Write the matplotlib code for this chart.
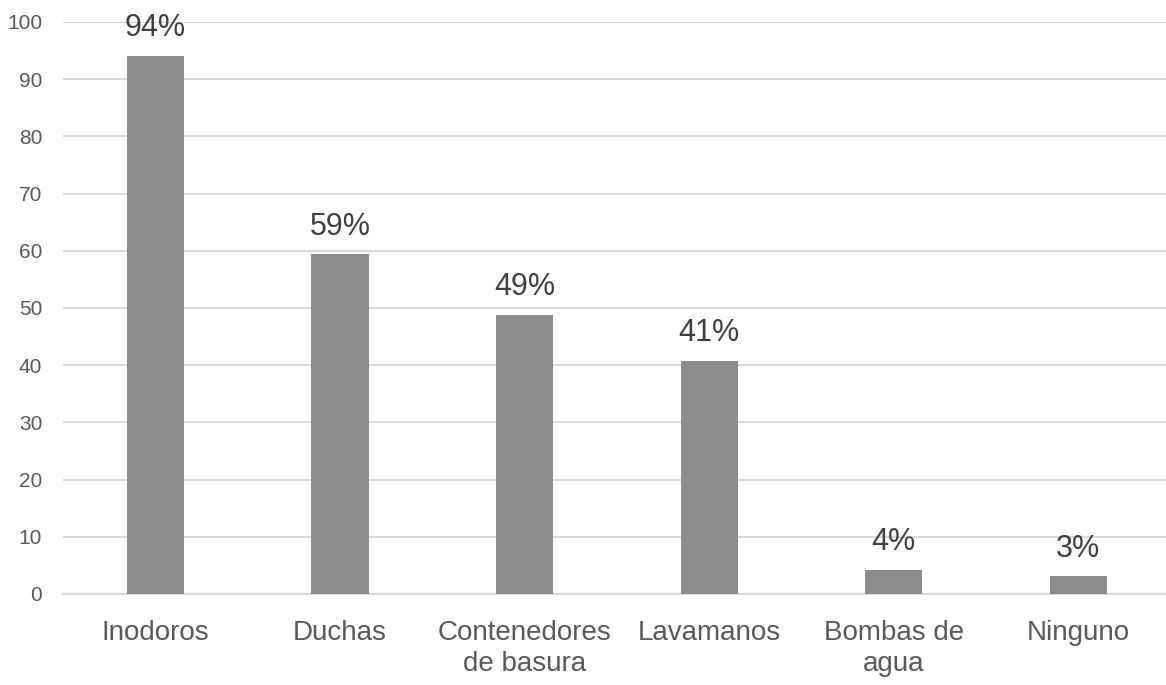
import matplotlib
matplotlib.use("Agg")
import matplotlib.pyplot as plt

categorias = ["Inodoros", "Duchas", "Contenedores\nde basura", "Lavamanos",
              "Bombas de\nagua", "Ninguno"]
porcentajes = [94.1, 59.4, 48.8, 40.8, 4.2, 3.1]
marcas_y = [0, 10, 20, 30, 40, 50, 60, 70, 80, 90, 100]

plt.rcParams["font.family"] = ["Liberation Sans Narrow", "Liberation Sans", "DejaVu Sans"]

fig = plt.figure(figsize=(11.66, 6.85), dpi=100)
ax = fig.add_axes([0.054, 0.133, 0.95, 0.835])

x = range(len(categorias))
barras = ax.bar(x, porcentajes, width=0.31, color="#8c8c8c", zorder=3)

for xi, v in zip(x, porcentajes):
    ax.annotate(f"{round(v)}%", (xi, v), xytext=(0, 9), textcoords="offset points",
                ha="center", va="bottom", fontsize=22, color="#404040")

ax.set_xlim(-0.5, 5.5)
ax.set_ylim(0, 100)
ax.set_yticks(marcas_y)
ax.set_xticks(list(x))
ax.set_xticklabels(categorias, fontsize=20, color="#595959", linespacing=1.25)
ax.tick_params(axis="y", labelsize=15, labelcolor="#595959", length=0, pad=15)
ax.tick_params(axis="x", length=0, pad=19)

ax.grid(axis="y", color="#d9d9d9", linewidth=1.5, zorder=0)
for s in ["top", "right", "left"]:
    ax.spines[s].set_visible(False)
ax.spines["bottom"].set_color("#d9d9d9")
ax.spines["bottom"].set_linewidth(1.5)

fig.savefig("out.png", dpi=100, facecolor="white")
